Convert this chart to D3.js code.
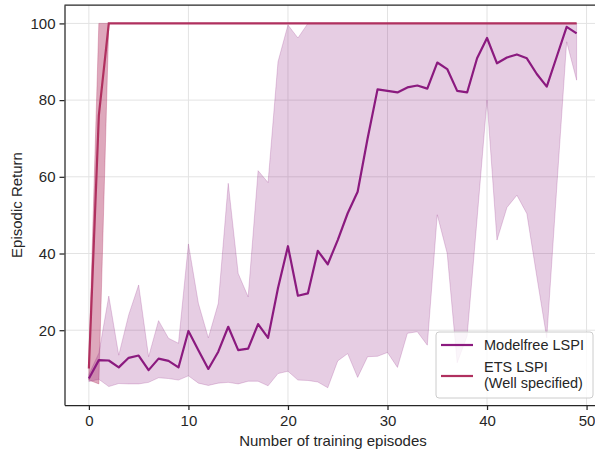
<!DOCTYPE html>
<html>
<head>
<meta charset="utf-8">
<script src="https://cdn.jsdelivr.net/npm/d3@7"></script>
<style>
  body { margin: 0; background: #fff; }
  svg { display: block; font-family: "Liberation Sans", Arial, sans-serif; }
  .axis text { fill: #262626; font-size: 15px; }
  .axis path, .axis line { stroke: #262626; stroke-width: 1.25; }
</style>
</head>
<body>
<div id="grafico"></div>
<script>
// episodes 0..49
var episodes = d3.range(0, 50);

// Modelfree LSPI: mean return and band
var mfMean = [7.4, 12.2, 12.1, 10.3, 12.8, 13.4, 9.6, 12.6, 12.0, 10.3,
              19.8, 14.8, 9.9, 14.4, 20.9, 14.8, 15.2, 21.6, 18.0, 31.0,
              41.9, 29.0, 29.6, 40.7, 37.2, 43.5, 50.5, 56.1, 70.0, 82.8,
              82.4, 82.0, 83.3, 83.8, 83.0, 89.8, 88.1, 82.4, 82.0, 90.9,
              96.2, 89.6, 91.1, 91.9, 90.9, 86.8, 83.5, 91.3, 99.1, 97.4];
var mfUpper = [8.5, 14, 28.9, 13.5, 24, 31.8, 13.1, 22.5, 17.9, 16.6,
               42.5, 27, 18, 27, 58.3, 34.8, 28.7, 61.6, 58.5, 90,
               99.6, 96.2, 100, 100, 100, 100, 100, 100, 100, 100,
               100, 100, 100, 100, 100, 100, 100, 100, 100, 100,
               100, 100, 100, 100, 100, 100, 100, 100, 100, 100];
var mfLower = [6.6, 7.2, 5.3, 6.1, 6.0, 6.0, 6.4, 7.6, 7.4, 7.0,
               8.1, 6.2, 5.6, 6.2, 6.4, 6.0, 6.7, 6.7, 5.5, 8.7,
               9.3, 7.0, 6.9, 6.5, 5.0, 12.0, 13.9, 7.7, 13.1, 13.2,
               14.2, 10.3, 19.2, 19.6, 16.1, 50.1, 40, 11.5, 18.5, 49,
               80, 43.5, 52, 55.2, 50.4, 34, 18, 57, 95.2, 85.2];

// ETS LSPI (Well specified)
var etsMean = [10, 76, 100, 100, 100, 100, 100, 100, 100, 100,
               100, 100, 100, 100, 100, 100, 100, 100, 100, 100,
               100, 100, 100, 100, 100, 100, 100, 100, 100, 100,
               100, 100, 100, 100, 100, 100, 100, 100, 100, 100,
               100, 100, 100, 100, 100, 100, 100, 100, 100, 100];
var etsUpper = [12, 100, 100, 100, 100, 100, 100, 100, 100, 100,
                100, 100, 100, 100, 100, 100, 100, 100, 100, 100,
                100, 100, 100, 100, 100, 100, 100, 100, 100, 100,
                100, 100, 100, 100, 100, 100, 100, 100, 100, 100,
                100, 100, 100, 100, 100, 100, 100, 100, 100, 100];
var etsLower = [7, 6, 100, 100, 100, 100, 100, 100, 100, 100,
                100, 100, 100, 100, 100, 100, 100, 100, 100, 100,
                100, 100, 100, 100, 100, 100, 100, 100, 100, 100,
                100, 100, 100, 100, 100, 100, 100, 100, 100, 100,
                100, 100, 100, 100, 100, 100, 100, 100, 100, 100];

var xTicks = [0, 10, 20, 30, 40, 50];
var yTicks = [20, 40, 60, 80, 100];
var legendLabels = [["Modelfree LSPI"], ["ETS LSPI", "(Well specified)"]];

var mfColor = "#8b1a7f", etsColor = "#b0305f";

// plot box (right edge runs past the window like the original)
var margin = {top: 5, left: 64.5},
    width = 536.5,
    height = 400;

var svg = d3.select("#grafico").append("svg")
    .attr("width", 595)
    .attr("height", 449);

var g = svg.append("g")
    .attr("transform", "translate(" + margin.left + "," + margin.top + ")");

var x = d3.scaleLinear().domain([-2.45, 51.45]).range([0, width]);
var y = d3.scaleLinear().domain([0.5, 104.8]).range([height, 0]);

g.append("clipPath").attr("id", "clip")
  .append("rect").attr("width", width).attr("height", height);

// gridlines
g.append("g")
    .selectAll("line.gx").data(xTicks).enter().append("line")
    .attr("x1", d => x(d)).attr("x2", d => x(d))
    .attr("y1", 0).attr("y2", height)
    .style("stroke", "#e3e3e3").style("stroke-width", 1);
g.append("g")
    .selectAll("line.gy").data(yTicks).enter().append("line")
    .attr("x1", 0).attr("x2", width)
    .attr("y1", d => y(d)).attr("y2", d => y(d))
    .style("stroke", "#e3e3e3").style("stroke-width", 1);

var plot = g.append("g").attr("clip-path", "url(#clip)");

function band(lo, hi) {
  return d3.area()
    .x((d, i) => x(episodes[i]))
    .y0((d, i) => y(lo[i]))
    .y1((d, i) => y(hi[i]));
}
function line(vals) {
  return d3.line()
    .x((d, i) => x(episodes[i]))
    .y((d, i) => y(vals[i]));
}

plot.append("path")
    .datum(episodes)
    .attr("d", band(etsLower, etsUpper))
    .style("fill", etsColor).style("fill-opacity", 0.42)
    .style("stroke", etsColor).style("stroke-opacity", 0.3).style("stroke-width", 1);

plot.append("path")
    .datum(episodes)
    .attr("d", band(mfLower, mfUpper))
    .style("fill", mfColor).style("fill-opacity", 0.22)
    .style("stroke", mfColor).style("stroke-opacity", 0.2).style("stroke-width", 1);

plot.append("path")
    .datum(episodes)
    .attr("d", line(etsMean))
    .style("fill", "none").style("stroke", etsColor).style("stroke-width", 2.2);

plot.append("path")
    .datum(episodes)
    .attr("d", line(mfMean))
    .style("fill", "none").style("stroke", mfColor).style("stroke-width", 2.2)
    .style("stroke-linejoin", "round");

// axes
g.append("g")
    .attr("class", "axis")
    .call(d3.axisLeft(y).tickValues(yTicks).tickSize(5).tickPadding(4).tickSizeOuter(0));

g.append("g")
    .attr("class", "axis")
    .attr("transform", "translate(0," + height + ")")
    .call(d3.axisBottom(x).tickValues(xTicks).tickSize(5).tickPadding(5).tickSizeOuter(0));

// top spine
g.append("line")
    .attr("x1", 0).attr("x2", width).attr("y1", 0).attr("y2", 0)
    .style("stroke", "#262626").style("stroke-width", 1.25);

// axis titles
svg.append("text")
    .attr("x", 333).attr("y", 446)
    .attr("text-anchor", "middle")
    .style("font-size", "15px").style("fill", "#262626")
    .text("Number of training episodes");

svg.append("text")
    .attr("transform", "translate(22," + (margin.top + height / 2) + ") rotate(-90)")
    .attr("text-anchor", "middle")
    .style("font-size", "15px").style("fill", "#262626")
    .text("Episodic Return");

// legend
var leg = svg.append("g").attr("transform", "translate(436,332)");
leg.append("rect")
    .attr("width", 157).attr("height", 66).attr("rx", 3)
    .style("fill", "#fff").style("fill-opacity", 0.8)
    .style("stroke", "#cccccc").style("stroke-width", 1);

var legColors = [mfColor, etsColor];
var legY = [13, 44];
var legTextY = [[18], [40, 56]];
legendLabels.forEach(function(lbl, k) {
  leg.append("line")
      .attr("x1", 5).attr("x2", 37)
      .attr("y1", legY[k]).attr("y2", legY[k])
      .style("stroke", legColors[k]).style("stroke-width", 2.2);
  lbl.forEach(function(s, j) {
    leg.append("text")
        .attr("x", 48)
        .attr("y", legTextY[k][j])
        .style("font-size", "14.5px").style("fill", "#262626")
        .text(s);
  });
});
</script>
</body>
</html>
